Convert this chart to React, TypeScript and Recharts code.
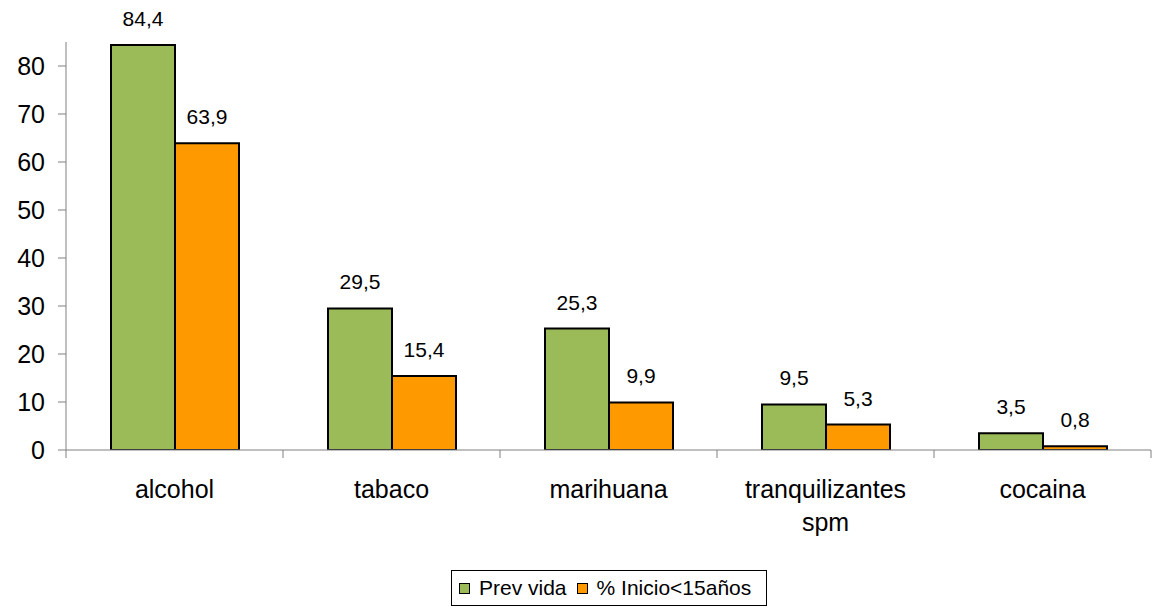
import React from "react";
import { BarChart, Bar, XAxis, YAxis, LabelList } from "recharts";

// Data
const categories = ["alcohol", "tabaco", "marihuana", "tranquilizantes spm", "cocaina"];
const prevVida = [84.4, 29.5, 25.3, 9.5, 3.5];
const inicio15 = [63.9, 15.4, 9.9, 5.3, 0.8];
const yTicks = [0, 10, 20, 30, 40, 50, 60, 70, 80];

const seriesNames = { prev: "Prev vida", inicio: "% Inicio<15años" };
const colors = { prev: "#9BBB59", inicio: "#FF9900" };

const FONT = "'Liberation Sans', Arial, sans-serif";
const AXIS = "#808080";
const BAND = (1151 - 66) / categories.length;

const data = categories.map((name, i) => ({
  name,
  prev: prevVida[i],
  inicio: inicio15[i],
}));

const fmt = (v: any) => String(v).replace(".", ",");

// x tick: label (wrapped) + tick marks on the category edges
const CategoryTick = (props: any) => {
  const { x, y, payload, index } = props;
  const lines = String(payload.value).split(" ");
  const last = index === categories.length - 1;
  return (
    <g>
      <line x1={x - BAND / 2} y1={y} x2={x - BAND / 2} y2={y + 8} stroke={AXIS} />
      {last && <line x1={x + BAND / 2} y1={y} x2={x + BAND / 2} y2={y + 8} stroke={AXIS} />}
      <text x={x} y={y + 48} textAnchor="middle" fontSize={25} fontFamily={FONT} fill="#000">
        {lines.map((l, i) => (
          <tspan key={i} x={x} dy={i === 0 ? 0 : 33}>
            {l}
          </tspan>
        ))}
      </text>
    </g>
  );
};

export default function App() {
  return (
    <div style={{ position: "absolute", left: 0, top: 0, width: 1161, height: 608, background: "#fff" }}>
      <BarChart
        width={1161}
        height={608}
        data={data}
        margin={{ top: 42, right: 10, bottom: 58, left: 0 }}
        barCategoryGap={45}
        barGap={0}
      >
        <XAxis
          dataKey="name"
          height={100}
          axisLine={{ stroke: AXIS }}
          tickLine={false}
          tickSize={0}
          tickMargin={0}
          interval={0}
          tick={<CategoryTick />}
        />
        <YAxis
          width={66}
          domain={[0, 85]}
          ticks={yTicks}
          allowDataOverflow
          axisLine={{ stroke: AXIS }}
          tickLine={{ stroke: AXIS }}
          tickSize={8}
          tickMargin={13}
          tick={{ fontSize: 25, fontFamily: FONT, fill: "#000" }}
        />
        <Bar dataKey="prev" name={seriesNames.prev} fill={colors.prev} stroke="#000" strokeWidth={2} isAnimationActive={false}>
          <LabelList dataKey="prev" position="top" offset={19} formatter={fmt} fontSize={21} fontFamily={FONT} fill="#000" />
        </Bar>
        <Bar dataKey="inicio" name={seriesNames.inicio} fill={colors.inicio} stroke="#000" strokeWidth={2} isAnimationActive={false}>
          <LabelList dataKey="inicio" position="top" offset={19} formatter={fmt} fontSize={21} fontFamily={FONT} fill="#000" />
        </Bar>
      </BarChart>

      {/* Legend */}
      <div
        style={{
          position: "absolute",
          left: 451,
          top: 570,
          width: 316,
          height: 36,
          boxSizing: "border-box",
          border: "1px solid #000",
          display: "flex",
          alignItems: "center",
          paddingLeft: 7,
          fontFamily: FONT,
          fontSize: 21,
          color: "#000",
          whiteSpace: "nowrap",
        }}
      >
        {(["prev", "inicio"] as const).map((k) => (
          <span key={k} style={{ display: "flex", alignItems: "center", marginRight: 10 }}>
            <span
              style={{
                width: 11,
                height: 11,
                background: colors[k],
                border: "1.5px solid #000",
                marginRight: 9,
                boxSizing: "border-box",
              }}
            />
            {seriesNames[k]}
          </span>
        ))}
      </div>
    </div>
  );
}
